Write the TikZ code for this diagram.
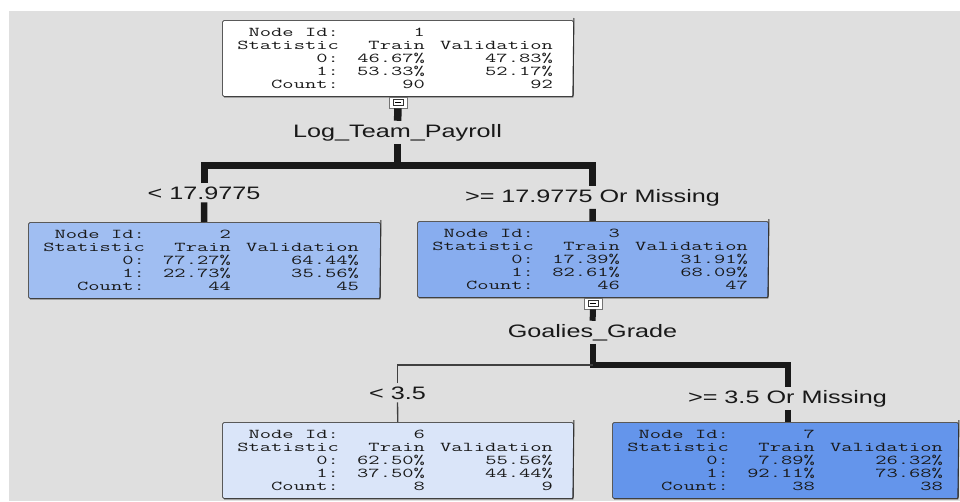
\documentclass[tikz,border=0pt]{standalone}
\usepackage{fontspec}
\usepackage{tikz}
\usetikzlibrary{positioning}
\newfontfamily\leaffont[FakeStretch=1.62]{Latin Modern Mono}
\newfontfamily\splitfont[FakeStretch=1.4]{Liberation Sans}
\definecolor{bggray}{RGB}{223,223,223}
\definecolor{leafB}{RGB}{160,190,242}
\definecolor{leafC}{RGB}{136,173,239}
\definecolor{leafF}{RGB}{218,229,249}
\definecolor{leafG}{RGB}{100,149,235}

\begin{document}
\begin{tikzpicture}[x=1pt,y=-1pt,
  leaf/.style={draw=black!65,line width=0.9pt,rounded corners=1.5pt,minimum height=76,inner sep=0},
  cell/.style={anchor=base east,inner sep=0,text=black!90,font=\leaffont\fontsize{13.5}{13.5}\selectfont},
  split/.style={anchor=base,inner sep=3pt,text=black!90,font=\splitfont\fontsize{18}{18}\selectfont},
  btn/.style={draw=black!55,fill=white,minimum width=18,minimum height=11,inner sep=0,
    path picture={\draw[black!80] ([shift={(-5,-3)}]path picture bounding box.center) rectangle ([shift={(5,3)}]path picture bounding box.center);
      \draw[black] ([shift={(-3,0)}]path picture bounding box.center) -- ([shift={(3,0)}]path picture bounding box.center);}},
  trunk/.style={line width=7pt,black!90},
  twig/.style={line width=1.3pt,black!75}]
  \useasboundingbox (0,0) rectangle (960,501);
  \fill[bggray] (9,11) rectangle (960,501);

  % leaves of the tree
  \foreach \nname/\nx/\ny/\nw/\nfill/\nid/\trA/\vaA/\trB/\vaB/\trC/\vaC in {
    n1/222/20/351/white/1/46.67/47.83/53.33/52.17/90/92,
    n2/28/222/352/leafB/2/77.27/64.44/22.73/35.56/44/45,
    n3/417/221/351/leafC/3/17.39/31.91/82.61/68.09/46/47,
    n6/222/422/351/leafF/6/62.50/55.56/37.50/44.44/8/9,
    n7/612/422/346/leafG/7/7.89/26.32/92.11/73.68/38/38}{
    \node[leaf,fill=\nfill,minimum width=\nw,anchor=north west] (\nname) at (\nx,\ny) {};
    \draw[black!80,line width=1.1pt] ([shift={(2,0)}]\nname.south west) -- ([shift={(-1,0)}]\nname.south east) -- ([shift={(0,-2)}]\nname.north east);
    \foreach \ca/\cb/\cc [count=\r] in {Node Id:/\nid/{},Statistic/Train/Validation,0:/\trA\%/\vaA\%,1:/\trB\%/\vaB\%,Count:/\trC/\vaC}{
      \node[cell] at ([shift={(117,3+13*\r)}]\nname.north west) {\ca};
      \node[cell] at ([shift={(203,3+13*\r)}]\nname.north west) {\cb};
      \node[cell] at ([shift={(331,3+13*\r)}]\nname.north west) {\cc};
    }
  }

  % first split
  \node[btn,below=0pt of n1] (b1) {};
  \node[split] (s1) at (397.5,137) {Log\_Team\_Payroll};
  \node[split] (c2) at (204,199) {< 17.9775};
  \node[split] (c3) at (592.5,202) {>= 17.9775 Or Missing};
  \coordinate (j1) at (397.5,165);
  \draw[trunk,line width=7.5pt] (b1) -- (s1);
  \draw[trunk,line width=7.5pt] (s1) -- (j1);
  \draw[trunk] (c2) |- (j1) -| (c3);
  \draw[trunk,line width=6.5pt] (c2) -- (n2);
  \draw[trunk,line width=6.5pt] (c3) -- (n3);

  % second split
  \node[btn,below=0pt of n3] (b3) {};
  \node[split] (s3) at (592.5,337) {Goalies\_Grade};
  \node[split] (c6) at (397.5,399) {< 3.5};
  \node[split] (c7) at (787.5,403) {>= 3.5 Or Missing};
  \coordinate (j3) at (592.5,365);
  \draw[trunk,line width=6pt] (b3) -- (s3);
  \draw[trunk,line width=6pt] (s3) -- (j3) -| (c7);
  \draw[twig] (c6) |- (j3);
  \draw[twig] (c6) -- (n6);
  \draw[trunk,line width=6pt] (c7) -- (c7 |- n7.north);
\end{tikzpicture}
\end{document}
